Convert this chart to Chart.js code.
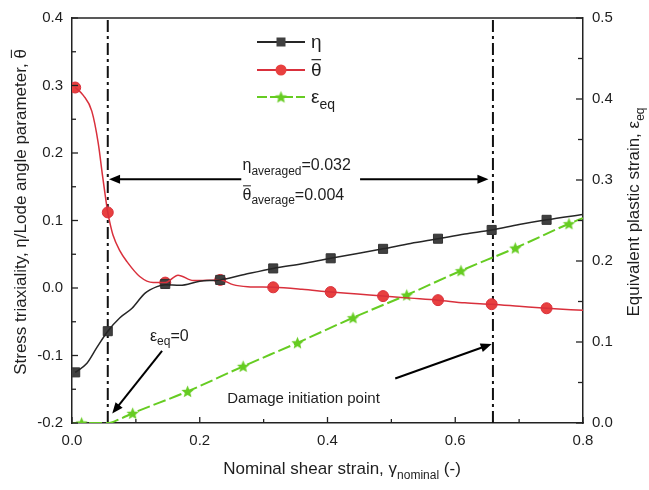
<!DOCTYPE html>
<html>
<head>
<meta charset="utf-8">
<script src="https://cdn.jsdelivr.net/npm/chart.js@4.4.0/dist/chart.umd.min.js"></script>
<style>
html,body{margin:0;padding:0;background:#fff;}
#wrap{width:649px;height:490px;position:relative;}
</style>
</head>
<body>
<div id="wrap"><canvas id="c" width="649" height="490"></canvas></div>
<script>
// ---- data ----
const etaLineX = [0.005,0.023,0.039,0.056,0.075,0.094,0.114,0.133,0.146,0.169,0.2,0.232,0.27,0.315,0.36,0.405,0.447,0.487,0.53,0.573,0.615,0.657,0.70,0.743,0.8];
const etaLineY = [-0.125,-0.112,-0.088,-0.064,-0.044,-0.030,-0.008,0.002,0.005,0.004,0.010,0.012,0.020,0.029,0.036,0.044,0.051,0.058,0.066,0.073,0.080,0.086,0.094,0.101,0.109];
const etaMarkX = [0.005,0.056,0.146,0.232,0.315,0.405,0.487,0.573,0.657,0.743];
const etaMarkY = [-0.125,-0.064,0.006,0.012,0.029,0.044,0.058,0.073,0.086,0.101];

const thetaLineX = [0.005,0.018,0.031,0.041,0.048,0.056,0.059,0.064,0.075,0.086,0.106,0.127,0.146,0.166,0.19,0.232,0.252,0.275,0.315,0.36,0.405,0.447,0.487,0.53,0.573,0.615,0.657,0.70,0.743,0.8];
const thetaLineY = [0.297,0.285,0.262,0.215,0.165,0.112,0.098,0.079,0.055,0.039,0.017,0.008,0.008,0.019,0.011,0.012,0.005,0.002,0.001,-0.002,-0.006,-0.009,-0.012,-0.015,-0.018,-0.022,-0.024,-0.027,-0.030,-0.033];
const thetaMarkX = [0.005,0.056,0.146,0.232,0.315,0.405,0.487,0.573,0.657,0.743];
const thetaMarkY = [0.297,0.112,0.008,0.012,0.001,-0.006,-0.012,-0.018,-0.024,-0.030];

const epsLineX = [0,0.015,0.056,0.075,0.095,0.181,0.268,0.353,0.44,0.524,0.609,0.694,0.778,0.8];
const epsLineY = [0,0,0,0.005,0.012,0.039,0.070,0.099,0.130,0.158,0.188,0.216,0.246,0.253];
const epsMarkX = [0.015,0.095,0.181,0.268,0.353,0.44,0.524,0.609,0.694,0.778];
const epsMarkY = [0,0.012,0.039,0.070,0.099,0.130,0.158,0.188,0.216,0.246];

const markerLinesX = [0.056, 0.659];   // dash-dot vertical lines
const xTicks = [0.0,0.2,0.4,0.6,0.8];
const yLeftTicks = [-0.2,-0.1,0.0,0.1,0.2,0.3,0.4];
const yRightTicks = [0.0,0.1,0.2,0.3,0.4,0.5];

// ---- styling ----
const BLACK = '#262626', RED = '#d9303c', REDFILL = '#e8403f', GREEN = '#66cc22';
const FONT = '"Liberation Sans", Arial, sans-serif';
const TXT = '#1e1e1e';

function zip(xs, ys){ return xs.map((x,i)=>({x:x, y:ys[i]})); }

function makeStar(color, r){
  const s = Math.ceil(r*2+2);
  const c = document.createElement('canvas'); c.width = s; c.height = s;
  const g = c.getContext('2d');
  g.translate(s/2, s/2+0.5);
  g.beginPath();
  for (let i=0;i<10;i++){
    const rad = i%2===0 ? r : r*0.45;
    const a = -Math.PI/2 + i*Math.PI/5;
    g.lineTo(rad*Math.cos(a), rad*Math.sin(a));
  }
  g.closePath(); g.fillStyle = color; g.fill();
  return c;
}
const starImg = makeStar(GREEN, 6.5);

// rich text: parts = [[text, type]] type: '' | 'sub' | 'over'
function partFont(size, type){ return (type==='sub' ? Math.round(size*0.72) : size) + 'px ' + FONT; }
function richWidth(ctx, parts, size){
  let w = 0;
  for (const [t,type] of parts){ ctx.font = partFont(size,type); w += ctx.measureText(t).width; }
  return w;
}
function drawRich(ctx, parts, x, y, size, align){
  ctx.save();
  ctx.fillStyle = TXT; ctx.strokeStyle = TXT;
  ctx.textAlign = 'left'; ctx.textBaseline = 'alphabetic';
  let cx = x;
  if (align === 'center') cx = x - richWidth(ctx, parts, size)/2;
  for (const [t,type] of parts){
    ctx.font = partFont(size,type);
    const w = ctx.measureText(t).width;
    const dy = type==='sub' ? size*0.3 : 0;
    ctx.fillText(t, cx, y+dy);
    if (type==='over'){
      ctx.lineWidth = Math.max(1, size/16);
      ctx.beginPath();
      ctx.moveTo(cx+0.5, y - size*0.86);
      ctx.lineTo(cx+w-0.5, y - size*0.86);
      ctx.stroke();
    }
    cx += w;
  }
  ctx.restore();
}
function arrow(ctx, x1, y1, x2, y2){
  const ang = Math.atan2(y2-y1, x2-x1);
  const L = 11, W = 4.5;
  ctx.save();
  ctx.strokeStyle = '#000'; ctx.fillStyle = '#000'; ctx.lineWidth = 2;
  ctx.beginPath(); ctx.moveTo(x1,y1);
  ctx.lineTo(x2 - Math.cos(ang)*L*0.8, y2 - Math.sin(ang)*L*0.8); ctx.stroke();
  ctx.beginPath();
  ctx.moveTo(x2, y2);
  ctx.lineTo(x2 - L*Math.cos(ang) + W*Math.sin(ang), y2 - L*Math.sin(ang) - W*Math.cos(ang));
  ctx.lineTo(x2 - L*Math.cos(ang) - W*Math.sin(ang), y2 - L*Math.sin(ang) + W*Math.cos(ang));
  ctx.closePath(); ctx.fill();
  ctx.restore();
}

// annotations in data coordinates (x, left-y)
const annArrows = [
  {from:[0.265,0.161], to:[0.058,0.161]},
  {from:[0.451,0.161], to:[0.652,0.161]},
  {from:[0.141,-0.093], to:[0.063,-0.186]},
  {from:[0.506,-0.134], to:[0.657,-0.083]}
];
const annTexts = [
  {at:[0.267,0.175], parts:[['η',''],['averaged','sub'],['=0.032','']], size:16},
  {at:[0.267,0.131], parts:[['θ','over'],['average','sub'],['=0.004','']], size:16},
  {at:[0.122,-0.078], parts:[['ε',''],['eq','sub'],['=0','']], size:16},
  {at:[0.243,-0.170], parts:[['Damage initiation point','']], size:15}
];

const overlay = {
  id:'overlay',
  afterDraw(chart){
    const ctx = chart.ctx, a = chart.chartArea;
    const sx = chart.scales.x, sy = chart.scales.y, sy1 = chart.scales.y1;
    ctx.save();
    ctx.strokeStyle = '#222'; ctx.lineWidth = 1.5;
    // top frame line
    ctx.beginPath(); ctx.moveTo(a.left, a.top); ctx.lineTo(a.right, a.top); ctx.stroke();
    // inward ticks
    ctx.lineWidth = 1.3;
    for (let i=0;i<=8;i++){
      const v = i*0.1, px = sx.getPixelForValue(v), len = i%2===0 ? 6 : 4;
      ctx.beginPath(); ctx.moveTo(px, a.bottom); ctx.lineTo(px, a.bottom-len); ctx.stroke();
    }
    for (let i=0;i<=12;i++){
      const v = -0.2 + i*0.05, py = sy.getPixelForValue(v), len = i%2===0 ? 6 : 4;
      ctx.beginPath(); ctx.moveTo(a.left, py); ctx.lineTo(a.left+len, py); ctx.stroke();
    }
    for (let i=0;i<=10;i++){
      const v = i*0.05, py = sy1.getPixelForValue(v), len = i%2===0 ? 7 : 5;
      ctx.beginPath(); ctx.moveTo(a.right, py); ctx.lineTo(a.right-len, py); ctx.stroke();
    }
    ctx.restore();

    // annotations
    for (const ar of annArrows){
      arrow(ctx, sx.getPixelForValue(ar.from[0]), sy.getPixelForValue(ar.from[1]),
                 sx.getPixelForValue(ar.to[0]), sy.getPixelForValue(ar.to[1]));
    }
    for (const t of annTexts){
      drawRich(ctx, t.parts, sx.getPixelForValue(t.at[0]), sy.getPixelForValue(t.at[1]), t.size, 'left');
    }

    // legend
    const lx0 = 257, lx1 = 305, items = [
      {y:42, color:BLACK, marker:'rect', parts:[['η','']], dash:[]},
      {y:70, color:RED, marker:'circle', parts:[['θ','over']], dash:[]},
      {y:97, color:GREEN, marker:'star', parts:[['ε',''],['eq','sub']], dash:[10,3]}
    ];
    for (const it of items){
      ctx.save();
      ctx.strokeStyle = it.color; ctx.lineWidth = 2; ctx.setLineDash(it.dash);
      ctx.beginPath(); ctx.moveTo(lx0, it.y); ctx.lineTo(lx1, it.y); ctx.stroke();
      ctx.setLineDash([]);
      const mx = (lx0+lx1)/2;
      if (it.marker==='rect'){ ctx.fillStyle='#404040'; ctx.fillRect(mx-4.5, it.y-4.5, 9, 9); }
      else if (it.marker==='circle'){ ctx.fillStyle=REDFILL; ctx.beginPath(); ctx.arc(mx, it.y, 5.5, 0, Math.PI*2); ctx.fill(); }
      else { ctx.drawImage(starImg, mx - starImg.width/2, it.y - starImg.height/2); }
      ctx.restore();
      drawRich(ctx, it.parts, lx1+6, it.y+6, 19, 'left');
    }

    // axis titles
    drawRich(ctx, [['Nominal shear strain, γ',''],['nominal','sub'],[' (-)','']], 342, 474, 17, 'center');
    ctx.save(); ctx.translate(26, 212); ctx.rotate(-Math.PI/2);
    drawRich(ctx, [['Stress triaxiality, η/Lode angle parameter, ',''],['θ','over']], 0, 0, 17, 'center');
    ctx.restore();
    ctx.save(); ctx.translate(639, 212); ctx.rotate(-Math.PI/2);
    drawRich(ctx, [['Equivalent plastic strain, ε',''],['eq','sub']], 0, 0, 17, 'center');
    ctx.restore();
  }
};

const tickFont = {family: FONT, size: 15};
const fmt1 = v => Number(v).toFixed(1);

const datasets = [
  {data: zip(epsLineX, epsLineY), yAxisID:'y1', borderColor:GREEN, borderWidth:2, borderDash:[13,4], pointRadius:0, cubicInterpolationMode:'monotone'},
  {data: zip(etaLineX, etaLineY), yAxisID:'y', borderColor:BLACK, borderWidth:1.5, pointRadius:0, cubicInterpolationMode:'monotone'},
  {data: zip(thetaLineX, thetaLineY), yAxisID:'y', borderColor:RED, borderWidth:1.5, pointRadius:0, cubicInterpolationMode:'monotone'},
  {data: zip(epsMarkX, epsMarkY), yAxisID:'y1', showLine:false, pointStyle:starImg},
  {data: zip(etaMarkX, etaMarkY), yAxisID:'y', showLine:false, pointStyle:'rect', pointRadius:6.4, backgroundColor:'#404040', borderColor:'#333', borderWidth:1},
  {data: zip(thetaMarkX, thetaMarkY), yAxisID:'y', showLine:false, pointStyle:'circle', pointRadius:5.5, backgroundColor:REDFILL, borderColor:RED, borderWidth:1},
];
for (const mx of markerLinesX){
  datasets.push({data:[{x:mx,y:-0.2},{x:mx,y:0.4}], yAxisID:'y', borderColor:'#111', borderWidth:2, borderDash:[12,4,3,4], pointRadius:0});
}

new Chart(document.getElementById('c'), {
  type:'line',
  data:{datasets},
  options:{
    responsive:false, animation:false,
    layout:{padding:{top:14, left:0, right:0, bottom:0}},
    plugins:{legend:{display:false}, tooltip:{enabled:false}},
    elements:{point:{hoverRadius:0}},
    scales:{
      x:{type:'linear', min:0, max:0.8,
         afterBuildTicks: s => { s.ticks = xTicks.map(v=>({value:v})); },
         afterFit: s => { s.height = 67; },
         ticks:{callback:fmt1, font:tickFont, color:TXT, padding:9, maxRotation:0},
         grid:{display:false, drawTicks:false}, border:{display:true, color:'#222', width:1.5}},
      y:{type:'linear', position:'left', min:-0.2, max:0.4,
         afterBuildTicks: s => { s.ticks = yLeftTicks.map(v=>({value:v})); },
         afterFit: s => { s.width = 72; },
         ticks:{callback:fmt1, font:tickFont, color:TXT, padding:9},
         grid:{display:false, drawTicks:false}, border:{display:true, color:'#222', width:1.5}},
      y1:{type:'linear', position:'right', min:0, max:0.5,
         afterBuildTicks: s => { s.ticks = yRightTicks.map(v=>({value:v})); },
         afterFit: s => { s.width = 66; },
         ticks:{callback:fmt1, font:tickFont, color:TXT, padding:9},
         grid:{display:false, drawTicks:false}, border:{display:true, color:'#222', width:1.5}}
    }
  },
  plugins:[overlay]
});
</script>
</body>
</html>
